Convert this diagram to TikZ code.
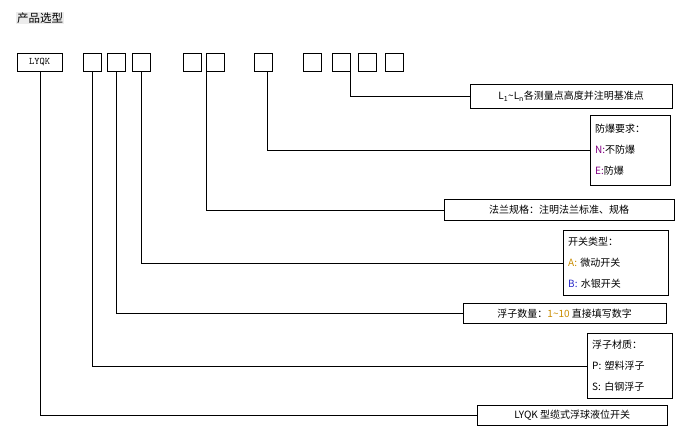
\documentclass[tikz,border=0pt]{standalone}
\usepackage{fontspec}
\setmainfont{Noto Sans CJK SC}
\usetikzlibrary{positioning}
\definecolor{markpurple}{RGB}{128,0,128}
\definecolor{markorange}{RGB}{200,140,0}
\definecolor{markblue}{RGB}{40,40,200}
\tikzset{
  codebox/.style={draw=black,minimum width=18pt,minimum height=18pt,inner sep=0pt},
  infobox/.style={draw=black,font=\fontsize{10}{21}\selectfont,inner sep=4pt,align=center},
  listbox/.style={draw=black,font=\fontsize{10}{21}\selectfont,inner xsep=5pt,inner ysep=2pt,align=left},
  lead/.style={draw=black,thin}
}
\begin{document}
\begin{tikzpicture}[x=1pt,y=-1pt]
  \useasboundingbox (0,0) rectangle (681,442);
  \node[fill=gray!15,inner sep=1pt,font=\fontsize{11.5}{13}\selectfont,anchor=west] (title) at (16,18) {产品选型};

  % code boxes
  \node[codebox,minimum width=45pt,font=\ttfamily,anchor=north west] (lyqk) at (17,53) {LYQK};
  \foreach \x/\n in {83/b1,107/b2,132/b3,183/b4,206/b5,254/b6,303/b7,332/b8,358/b9,385/b10}
    \node[codebox,anchor=north west] (\n) at (\x,53) {};

  % explanation boxes
  \node[infobox,minimum width=202pt,minimum height=24pt,anchor=north west] (pts) at (470,84)
    {L\textsubscript{1}\textasciitilde L\textsubscript{n}各测量点高度并注明基准点};
  \node[listbox,text width=70pt,minimum height=70pt,anchor=north west] (ex) at (590,115)
    {防爆要求：\\\textcolor{markpurple}{N:}不防爆\\\textcolor{markpurple}{E:}防爆};
  \node[infobox,minimum width=230pt,minimum height=21pt,anchor=north west] (flange) at (444,199)
    {法兰规格：注明法兰标准、规格};
  \node[listbox,text width=95pt,minimum height=65pt,anchor=north west] (sw) at (563,230)
    {开关类型：\\\textcolor{markorange}{A:} 微动开关\\\textcolor{markblue}{B:} 水银开关};
  \node[infobox,minimum width=203pt,minimum height=20pt,anchor=north west] (num) at (463,303)
    {浮子数量：\textcolor{markorange}{1\textasciitilde10} 直接填写数字};
  \node[listbox,text width=75pt,minimum height=65pt,anchor=north west] (mat) at (587,333)
    {浮子材质：\\P:\ 塑料浮子\\S:\ 白钢浮子};
  \node[infobox,minimum width=190pt,minimum height=20pt,anchor=north west] (type) at (477,405)
    {LYQK 型缆式浮球液位开关};

  % leaders
  \draw[lead] (lyqk.south) |- (type.west);
  \draw[lead] (b1.south) |- (mat.west);
  \draw[lead] (b2.south) |- (num.west);
  \draw[lead] (b3.south) |- (sw.west);
  \draw[lead] (b5.south west) |- (flange.west);
  \draw[lead] ([xshift=4pt]b6.south) |- (ex.west);
  \draw[lead] (b8.south east) |- (pts.west);
\end{tikzpicture}
\end{document}
